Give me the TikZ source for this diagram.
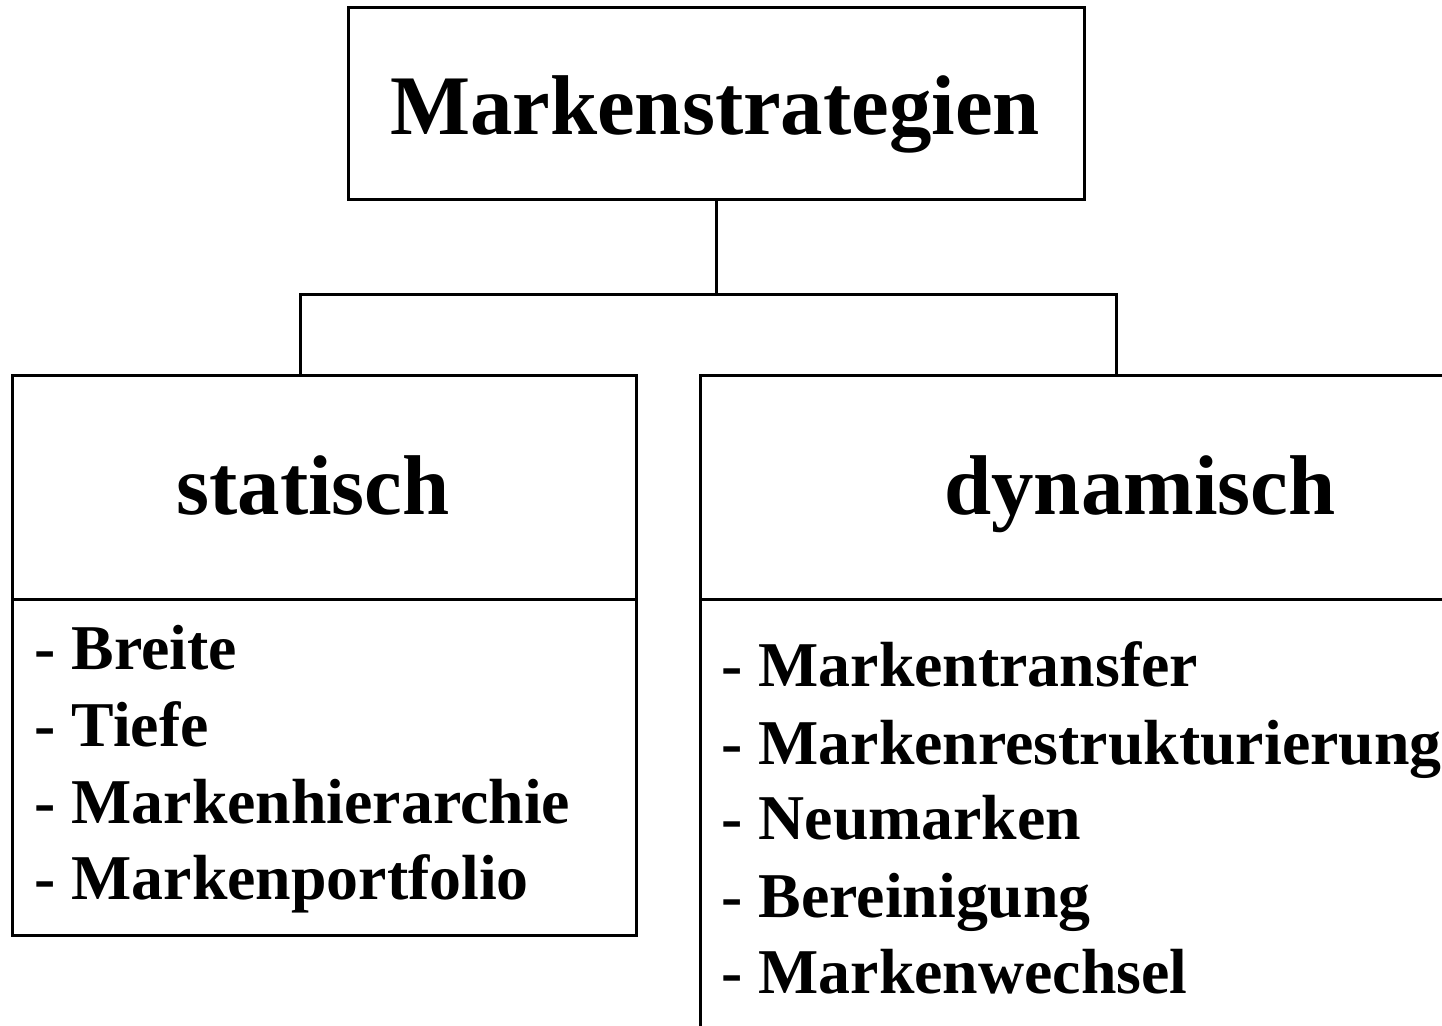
\documentclass[tikz,border=0pt]{standalone}
\usepackage{fontspec}
\setmainfont{Liberation Serif}
\begin{document}
\begin{tikzpicture}[x=0.5pt,y=-0.5pt,line width=1.5pt,
  box/.style={draw,rectangle,inner sep=0pt},
  head/.style={font=\fontsize{42.4}{50}\selectfont\bfseries,anchor=base,inner sep=0pt},
  entry/.style={font=\fontsize{31.9}{38}\selectfont\bfseries,anchor=base west,inner sep=0pt}]
\useasboundingbox (0,0) rectangle (1442,1026);
\clip (0,0) rectangle (1442,1026);

% boxes
\node[box,minimum width=368pt,minimum height=96pt] (top) at (716,104) {};
\node[box,minimum width=312pt,minimum height=279.5pt] (lbox) at (324,655.5) {};
\node[box,minimum width=400pt,minimum height=362pt] (rbox) at (1100,738) {};

% dividers under the headings
\draw (12,600) -- (636,600);
\draw (700,600) -- (1500,600);

% tree connectors
\coordinate (j) at (716,295);
\coordinate (lc) at (300,376);
\coordinate (rc) at (1116,376);
\draw (top.south) -- (j);
\draw (j) -| (lc);
\draw (j) -| (rc);

% headings
\node[head] (t0) at (715,135) {Markenstrategien};
\node[head] (t1) at (313,515) {statisch};
\node[head] (t2) at (1140,515) {dynamisch};

% left list
\node[entry] (l1) at (33,670) {- Breite};
\node[entry] (l2) at (33,747) {- Tiefe};
\node[entry] (l3) at (33,823) {- Markenhierarchie};
\node[entry] (l4) at (33,899) {- Markenportfolio};

% right list
\node[entry] (r1) at (720,687) {- Markentransfer};
\node[entry] (r2) at (720,764) {- Markenrestrukturierung};
\node[entry] (r3) at (720,840) {- Neumarken};
\node[entry] (r4) at (720,917) {- Bereinigung};
\node[entry] (r5) at (720,993) {- Markenwechsel};
\end{tikzpicture}
\end{document}
